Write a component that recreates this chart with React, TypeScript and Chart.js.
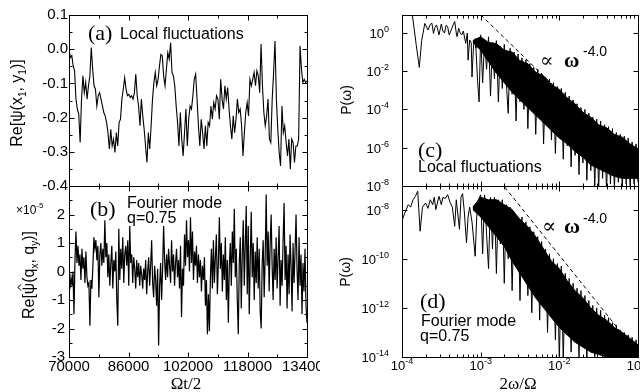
import React, { useEffect, useRef } from "react";
import { Chart, registerables } from "chart.js";

Chart.register(...registerables);

const SANS = '"Liberation Sans", Arial, Helvetica, sans-serif';
const SERIF = '"Liberation Serif", "Times New Roman", "DejaVu Serif", serif';

// ---------------- data ----------------
const timeStart = 70000;
const timeEnd = 134000;
const timeTicks = [70000, 86000, 102000, 118000, 134000];
const timeMinorTicks = [78000, 94000, 110000, 126000];

const aTicks = [0.1, 0.0, -0.1, -0.2, -0.3, -0.4];
const aMinorTicks = [0.05, -0.05, -0.15, -0.25, -0.35];
const bTicks = [2, 1, 0, -1, -2, -3];
const bMinorTicks = [2.5, 1.5, 0.5, -0.5, -1.5, -2.5];

// Re[psi(x1,y1)] sampled uniformly over the time window
const localFluct = [
  0.000, -0.024, -0.019, -0.049, -0.063, -0.146, -0.175, -0.190, -0.273, -0.146,
  -0.078, -0.127, -0.097, -0.146, -0.107, -0.078, 0.005, -0.058, -0.107, -0.117,
  -0.166, -0.136, -0.127, -0.146, -0.166, -0.185, -0.195, -0.214, -0.244, -0.292,
  -0.234, -0.283, -0.263, -0.302, -0.244, -0.283, -0.214, -0.205, -0.146, -0.117,
  -0.083, -0.117, -0.136, -0.132, -0.141, -0.136, -0.146, -0.127, -0.073, -0.136,
  -0.166, -0.224, -0.146, -0.195, -0.234, -0.283, -0.331, -0.244, -0.292, -0.224,
  -0.146, -0.097, -0.068, -0.107, -0.088, -0.049, -0.015, -0.019, -0.078, -0.107,
  -0.058, -0.010, -0.029, 0.019, -0.068, -0.078, -0.107, -0.166, -0.214, -0.283,
  -0.185, -0.263, -0.312, -0.244, -0.175, -0.283, -0.205, -0.166, -0.175, -0.136,
  -0.088, -0.073, -0.146, -0.224, -0.283, -0.205, -0.244, -0.292, -0.224, -0.283,
  -0.214, -0.224, -0.166, -0.205, -0.156, -0.175, -0.136, -0.146, -0.205, -0.088,
  -0.146, -0.175, -0.107, -0.146, -0.112, -0.175, -0.224, -0.263, -0.195, -0.244,
  -0.205, -0.146, -0.185, -0.175, -0.224, -0.312, -0.244, -0.185, -0.156, -0.195,
  -0.088, -0.107, -0.088, -0.068, -0.107, -0.063, -0.078, -0.127, 0.015, -0.107,
  -0.185, -0.224, -0.195, -0.146, -0.263, -0.273, -0.146, -0.068, 0.024, -0.146,
  -0.234, -0.302, -0.341, -0.166, -0.244, -0.224, -0.273, -0.312, -0.263, -0.351,
  -0.263, -0.273, -0.331, -0.283, -0.283, -0.263, 0.010, -0.058, -0.097, -0.088,
  -0.097, -0.093,
];

// Re[psi^(qx,qy)] in units of 1e-5
const fourierMode = [
  -0.3, -0.6, -0.2, -0.5, 0.0, -1.5, 0.4, 1.4, 0.3, 0.9,
  0.2, 0.6, -0.3, 0.8, 0.1, 0.5, -0.4, 0.7, -0.2, -0.5,
  -0.4, -1.9, -0.3, -0.6, 0.2, 1.2, 0.8, 1.1, 0.4, 0.9,
  -0.9, 0.6, 1.0, 0.2, 0.8, 0.3, 1.8, 0.5, 1.0, -0.2,
  0.6, -0.5, 0.3, 0.9, -0.6, 0.4, 0.0, 0.7, -1.0, -1.9,
  1.5, -0.3, 0.8, 0.1, 1.2, -0.4, 0.6, 0.9, 0.2, 1.1,
  -0.5, 1.6, 0.3, 0.6, -0.4, 0.5, 0.1, -0.6, 0.4, -0.2,
  0.3, -0.5, 0.2, -0.1, -0.6, 0.1, -0.3, 0.4, -0.8, 0.0,
  0.5, -0.5, 0.2, 1.1, -0.4, -0.9, 0.2, -0.3, -1.2, 0.1,
  -2.6, -0.5, 0.3, -1.0, 0.1, 1.6, 0.4, -0.3, 0.6, -0.2,
  0.8, 0.2, -0.4, 1.1, 0.0, 0.6, -0.5, 0.3, 0.8, -0.2,
  0.4, -0.6, 0.9, -1.6, 0.1, -0.5, 1.3, 0.2, 1.8, 0.5,
  1.1, 0.0, 1.9, 0.3, 1.4, -0.3, 0.7, 0.2, 0.9, -0.4,
  0.6, -0.2, 0.4, -0.7, 0.2, -0.3, 0.5, -1.2, -0.3, -2.2,
  -0.8, -2.1, -0.2, 0.8, -0.6, 1.1, -0.4, 0.5, 1.3, -0.8,
  0.3, 1.9, 0.1, 1.0, -0.7, 0.6, -0.3, 1.2, -1.0, 0.4,
  -1.8, 0.2, 1.0, -0.5, 1.4, 0.3, 2.2, -0.2, 0.8, -1.0,
  -2.2, 0.3, 1.2, -1.3, 0.6, 1.8, -0.5, 0.9, 2.3, -0.8,
  1.6, -1.5, 0.4, 2.1, -0.2, 1.0, -1.0, 0.7, -0.4, 1.2,
  -0.6, 0.8, -1.4, -2.0, 0.3, 1.1, -0.9, 0.5, 2.7, 0.2,
  1.4, -0.7, 1.0, 2.0, 0.2, -1.0, 0.8, -0.3, 1.2, -0.6,
  0.5, 1.6, -1.2, 0.4, -0.5, 1.1, 2.4, -0.3, 0.9, -1.3,
  0.6, -0.8, 1.3, 0.2, -1.4, 1.0, -0.4, 0.7, 2.0, 0.1,
  -1.0, 1.2, -0.5, 0.6, -1.5, 0.3, -0.7, 0.8, -1.2, -1.8,
];

// spectra: log10 of frequency (2w/Omega) and of P(w)
const freqDecades = [-4, -3, -2, -1];
const cYDecades = [0, -2, -4, -6, -8];
const dYDecades = [-8, -10, -12, -14];

const cLogFreq = [
  -4.00, -3.87, -3.82, -3.79, -3.78, -3.75, -3.71, -3.67, -3.64, -3.62,
  -3.60, -3.58, -3.56, -3.53, -3.50, -3.48, -3.46, -3.44, -3.42, -3.40,
  -3.37, -3.35, -3.33, -3.31, -3.30, -3.28, -3.26, -3.24, -3.22, -3.19,
  -3.17, -3.16, -3.14, -3.12, -3.11, -3.09, -3.07, -3.06, -3.04, -3.02,
  -3.000, -2.975, -2.950, -2.925, -2.900, -2.875, -2.850, -2.825, -2.800, -2.775,
  -2.750, -2.725, -2.700, -2.675, -2.650, -2.625, -2.600, -2.575, -2.550, -2.525,
  -2.500, -2.475, -2.450, -2.425, -2.400, -2.375, -2.350, -2.325, -2.300, -2.275,
  -2.250, -2.225, -2.200, -2.175, -2.150, -2.125, -2.100, -2.075, -2.050, -2.025,
  -2.000, -1.975, -1.950, -1.925, -1.900, -1.875, -1.850, -1.825, -1.800, -1.775,
  -1.750, -1.725, -1.700, -1.675, -1.650, -1.625, -1.600, -1.575, -1.550, -1.525,
  -1.500, -1.475, -1.450, -1.425, -1.400, -1.375, -1.350, -1.325, -1.300, -1.275,
  -1.250, -1.225, -1.200, -1.175, -1.150, -1.125, -1.100, -1.075, -1.050, -1.025,
  -1.000,
];
const cLogPower = [
  1.5, 1.0, -0.6, -1.5, -1.8, -0.4, 0.5, 0.16, 0.45, 0.51,
  -0.02, 0.3, 0.42, -0.1, 0.47, 0.1, 0.0, 0.4, 0.33, -0.1,
  0.2, 0.42, 0.6, 0.0, -0.19, 0.25, 0.0, -0.1, 0.1, -0.54,
  0.0, -1.42, -0.37, -0.5, -2.3, -0.6, -0.3, -0.8, -2.47, -3.6,
  -0.1, -2.6, -0.4, -1.9, -0.2, -3.3, -0.5, -2.4, -0.4, -3.6,
  -0.7, -2.9, -0.6, -2.5, -4.2, -0.8, -3.2, -1.0, -4.6, -1.1,
  -3.6, -1.3, -4.0, -1.4, -5.0, -1.6, -3.9, -1.8, -5.3, -1.9,
  -4.4, -2.1, -5.8, -2.3, -4.9, -2.4, -5.6, -2.6, -6.3, -2.8,
  -5.4, -2.9, -6.6, -3.1, -5.9, -3.3, -7.0, -3.5, -6.4, -3.7,
  -7.4, -3.9, -6.8, -4.0, -7.7, -4.2, -7.2, -4.4, -8.1, -4.5,
  -8.2, -4.6, -7.6, -4.8, -8.3, -4.9, -7.9, -5.0, -8.2, -5.2,
  -7.8, -5.3, -8.1, -5.4, -7.9, -5.5, -8.1, -5.7, -7.9, -5.8,
  -7.8,
];
const cBandFreq = [
  -3.10, -3.00, -2.90, -2.80, -2.70, -2.60, -2.50, -2.40, -2.30, -2.20, -2.10,
  -2.00, -1.90, -1.80, -1.70, -1.60, -1.50, -1.40, -1.30, -1.20, -1.10, -1.00,
];
const cBandUpper = [
  -0.4, -0.2, -0.5, -0.55, -0.9, -1.0, -1.45, -1.6, -2.05, -2.25, -2.7,
  -2.95, -3.4, -3.7, -4.15, -4.4, -4.8, -4.95, -5.3, -5.45, -5.8, -6.05,
];
const cBandLower = [
  -0.5, -0.9, -1.5, -2.1, -2.6, -3.1, -3.5, -3.9, -4.3, -4.7, -5.1,
  -5.5, -5.8, -6.2, -6.5, -6.9, -7.1, -7.3, -7.5, -7.6, -7.6, -7.6,
];
const cSlopeFreq = [-3.0, -1.0];
const cSlopePower = [0.95, -7.05];

const dLogFreq = [
  -4.00, -3.96, -3.92, -3.89, -3.86, -3.83, -3.80, -3.77, -3.74, -3.70,
  -3.67, -3.64, -3.61, -3.59, -3.57, -3.53, -3.50, -3.48, -3.45, -3.42,
  -3.39, -3.36, -3.33, -3.31, -3.27, -3.25, -3.23, -3.21, -3.18, -3.16,
  -3.14, -3.11, -3.07, -3.05, -3.03,
  -3.000, -2.975, -2.950, -2.925, -2.900, -2.875, -2.850, -2.825, -2.800, -2.775,
  -2.750, -2.725, -2.700, -2.675, -2.650, -2.625, -2.600, -2.575, -2.550, -2.525,
  -2.500, -2.475, -2.450, -2.425, -2.400, -2.375, -2.350, -2.325, -2.300, -2.275,
  -2.250, -2.225, -2.200, -2.175, -2.150, -2.125, -2.100, -2.075, -2.050, -2.025,
  -2.000, -1.975, -1.950, -1.925, -1.900, -1.875, -1.850, -1.825, -1.800, -1.775,
  -1.750, -1.725, -1.700, -1.675, -1.650, -1.625, -1.600, -1.575, -1.550, -1.525,
  -1.500, -1.475, -1.450, -1.425, -1.400, -1.375, -1.350, -1.325, -1.300, -1.275,
  -1.250, -1.225, -1.200, -1.175, -1.150, -1.125, -1.100, -1.075, -1.050, -1.025,
  -1.000,
];
const dLogPower = [
  -8.45, -8.1, -7.8, -7.9, -7.6, -7.46, -7.25, -8.88, -7.9, -7.73,
  -7.95, -7.6, -7.8, -7.5, -8.0, -7.46, -7.8, -7.5, -7.55, -7.39,
  -7.7, -7.9, -8.68, -7.6, -8.8, -7.5, -7.35, -8.0, -9.36, -8.3,
  -7.9, -8.5, -9.9, -8.3, -7.6,
  -7.4, -9.8, -7.4, -9.0, -10.4, -7.5, -9.6, -7.5, -10.6, -7.6,
  -9.4, -7.6, -11.0, -7.8, -10.0, -7.9, -11.3, -8.1, -10.3, -8.3,
  -11.7, -8.3, -10.8, -8.5, -11.5, -8.7, -12.2, -8.9, -11.2, -9.1,
  -12.5, -9.3, -11.8, -9.6, -13.0, -9.8, -12.2, -10.0, -13.3, -10.2,
  -14.2, -10.3, -14.2, -10.6, -13.1, -10.8, -13.8, -11.0, -13.4, -11.2,
  -14.0, -11.3, -13.6, -11.5, -14.1, -11.7, -13.8, -11.9, -14.1, -12.0,
  -13.9, -12.1, -14.1, -12.3, -14.1, -12.4, -14.1, -12.6, -14.1, -12.7,
  -14.1, -12.9, -14.1, -13.0, -14.1, -13.1, -14.1, -13.2, -14.1, -13.3,
  -14.1,
];
const dBandFreq = [
  -3.10, -3.00, -2.90, -2.80, -2.70, -2.60, -2.50, -2.40, -2.30, -2.20, -2.10,
  -2.00, -1.90, -1.80, -1.70, -1.60, -1.50, -1.40, -1.30, -1.20, -1.10, -1.00,
];
const dBandUpper = [
  -7.9, -7.5, -7.6, -7.6, -7.8, -8.0, -8.4, -8.7, -9.1, -9.6, -10.1,
  -10.4, -10.9, -11.3, -11.6, -12.0, -12.3, -12.5, -12.8, -13.0, -13.25, -13.5,
];
const dBandLower = [
  -8.0, -8.3, -8.7, -9.1, -9.5, -10.1, -10.6, -11.1, -11.6, -12.0, -12.4,
  -12.8, -13.1, -13.4, -13.6, -13.8, -13.9, -14.0, -14.0, -14.0, -14.0, -14.0,
];
const dSlopeFreq = [-2.75, -1.0];
const dSlopePower = [-6.86, -13.86];

// ---------------- helpers ----------------
const timeAt = (i: number, n: number) => timeStart + (i * (timeEnd - timeStart)) / (n - 1);
const seriesXY = (vals: number[]) => vals.map((v, i) => ({ x: timeAt(i, vals.length), y: v }));
const logXY = (lx: number[], ly: number[]) => lx.map((v, i) => ({ x: Math.pow(10, v), y: Math.pow(10, ly[i]) }));
const pow10 = (d: number) => Math.pow(10, d);
const logMinor = (decs: number[]) => {
  const out: number[] = [];
  for (let i = 0; i < decs.length - 1; i++) for (let m = 2; m <= 9; m++) out.push(m * pow10(decs[i]));
  return out;
};

type Seg = { t: string; size: number; family?: string; weight?: string; dy?: number; hat?: boolean };
type TextItem = { x: number; y: number; segs: Seg[]; align?: "left" | "center" | "right"; rotate?: boolean };

const fontOf = (s: Seg) => `${s.weight ?? "normal"} ${s.size}px ${s.family ?? SANS}`;

function drawRich(ctx: CanvasRenderingContext2D, item: TextItem) {
  ctx.save();
  ctx.fillStyle = "#000";
  ctx.strokeStyle = "#000";
  ctx.textBaseline = "alphabetic";
  ctx.textAlign = "left";
  let ox = item.x;
  let oy = item.y;
  if (item.rotate) {
    ctx.translate(item.x, item.y);
    ctx.rotate(-Math.PI / 2);
    ox = 0;
    oy = 0;
  }
  const widths = item.segs.map((s) => {
    ctx.font = fontOf(s);
    return ctx.measureText(s.t).width;
  });
  const total = widths.reduce((a, b) => a + b, 0);
  let cx = item.align === "center" ? ox - total / 2 : item.align === "right" ? ox - total : ox;
  item.segs.forEach((s, i) => {
    ctx.font = fontOf(s);
    const by = oy + (s.dy ?? 0);
    ctx.fillText(s.t, cx, by);
    if (s.hat) {
      const mx = cx + widths[i] / 2 + 1;
      const hy = by - s.size * 0.92;
      ctx.lineWidth = 1;
      ctx.beginPath();
      ctx.moveTo(mx - 3, hy + 2);
      ctx.lineTo(mx, hy - 1.5);
      ctx.lineTo(mx + 3, hy + 2);
      ctx.stroke();
    }
    cx += widths[i];
  });
  ctx.restore();
}

const framePlugin = {
  id: "frame",
  afterDraw(chart: any, _args: any, opts: any) {
    const ctx: CanvasRenderingContext2D = chart.ctx;
    const { left, right, top, bottom } = chart.chartArea;
    const xs = chart.scales.x;
    const ys = chart.scales.y;
    const L = Math.round(left) + 0.5;
    const R = Math.round(right) + 0.5;
    const T = Math.round(top) + 0.5;
    const B = Math.round(bottom) + 0.5;
    ctx.save();
    ctx.strokeStyle = "#000";
    ctx.lineWidth = 1;
    ctx.strokeRect(L, T, R - L, B - T);
    const seg = (x1: number, y1: number, x2: number, y2: number) => {
      ctx.beginPath();
      ctx.moveTo(x1, y1);
      ctx.lineTo(x2, y2);
      ctx.stroke();
    };
    const xt = (vals: number[], len: number) =>
      vals.forEach((v) => {
        const p = Math.round(xs.getPixelForValue(v)) + 0.5;
        if (p < L - 0.1 || p > R + 0.1) return;
        seg(p, T, p, T + len);
        seg(p, B, p, B - len);
      });
    const yt = (vals: number[], len: number) =>
      vals.forEach((v) => {
        const p = Math.round(ys.getPixelForValue(v)) + 0.5;
        if (p < T - 0.1 || p > B + 0.1) return;
        seg(L, p, L + len, p);
        seg(R, p, R - len, p);
      });
    xt(opts.xMajor || [], 5);
    xt(opts.xMinor || [], 3);
    yt(opts.yMajor || [], 5);
    yt(opts.yMinor || [], 3);
    ctx.restore();

    if (opts.logY) {
      (opts.logY as number[]).forEach((d) => {
        const p = ys.getPixelForValue(pow10(d));
        drawRich(ctx, {
          x: left - 13,
          y: p + 5,
          align: "right",
          segs: [
            { t: "10", size: 13 },
            { t: String(d), size: 9, dy: -6 },
          ],
        });
      });
    }
    if (opts.logX) {
      (opts.logX as number[]).forEach((d) => {
        const p = xs.getPixelForValue(pow10(d));
        drawRich(ctx, {
          x: p,
          y: 370,
          align: "center",
          segs: [
            { t: "10", size: 13 },
            { t: String(d), size: 9, dy: -6 },
          ],
        });
      });
    }
    (opts.texts || []).forEach((t: TextItem) => drawRich(ctx, t));
  },
};

const lineDs = (data: any[], extra: any = {}) => ({
  data,
  borderColor: "#000",
  backgroundColor: "#000",
  borderWidth: 1,
  pointRadius: 0,
  tension: 0,
  fill: false,
  ...extra,
});

const baseOpts = (padding: any, scales: any, frame: any) => ({
  responsive: false,
  animation: false,
  devicePixelRatio: 1,
  events: [],
  layout: { padding },
  plugins: { legend: { display: false }, tooltip: { enabled: false }, frame },
  scales,
});

const linYAxis = (min: number, max: number, ticks: number[], pad: number, fmt: (v: number) => string) => ({
  type: "linear",
  min,
  max,
  afterBuildTicks: (s: any) => {
    s.ticks = ticks.map((v) => ({ value: v }));
  },
  afterFit: (s: any) => {
    s.width = 69;
    s.paddingTop = 0;
    s.paddingBottom = 0;
  },
  grid: { display: false, drawTicks: false },
  border: { display: false },
  ticks: { color: "#000", font: { family: SANS, size: 15 }, padding: pad, autoSkip: false, callback: (v: any) => fmt(Number(v)) },
});

function makeA(cv: HTMLCanvasElement) {
  return new Chart(cv, {
    type: "line",
    data: { datasets: [lineDs(seriesXY(localFluct), { borderWidth: 1.1 })] },
    options: baseOpts(
      { left: 0, right: 13, top: 15, bottom: 206 },
      {
        x: { type: "linear", min: timeStart, max: timeEnd, display: false },
        y: linYAxis(-0.4, 0.1, aTicks, 1, (v) => v.toFixed(1)),
      },
      {
        xMajor: timeTicks,
        xMinor: timeMinorTicks,
        yMajor: aTicks,
        yMinor: aMinorTicks,
        texts: [
          { x: 88, y: 40, segs: [{ t: "(a)", size: 22, family: SERIF }] },
          { x: 120, y: 39, segs: [{ t: "Local fluctuations", size: 16 }] },
          {
            x: 22,
            y: 103,
            rotate: true,
            align: "center",
            segs: [
              { t: "Re[ψ(x", size: 16 },
              { t: "1", size: 10, dy: 4 },
              { t: ", y", size: 16 },
              { t: "1", size: 10, dy: 4 },
              { t: ")]", size: 16 },
            ],
          },
        ],
      }
    ) as any,
    plugins: [framePlugin as any],
  });
}

function makeB(cv: HTMLCanvasElement) {
  return new Chart(cv, {
    type: "line",
    data: { datasets: [lineDs(seriesXY(fourierMode), { borderWidth: 1.2 })] },
    options: baseOpts(
      { left: 0, right: 13, top: 186, bottom: 0 },
      {
        x: {
          type: "linear",
          min: timeStart,
          max: timeEnd,
          afterBuildTicks: (s: any) => {
            s.ticks = timeTicks.map((v) => ({ value: v }));
          },
          afterFit: (s: any) => {
            s.height = 35;
            s.paddingLeft = 0;
            s.paddingRight = 0;
          },
          grid: { display: false, drawTicks: false },
          border: { display: false },
          ticks: {
            color: "#000",
            font: { family: SANS, size: 15 },
            padding: 1,
            maxRotation: 0,
            autoSkip: false,
            callback: (v: any) => String(v),
          },
        },
        y: linYAxis(-3, 3, bTicks, 4, (v) => String(v)),
      },
      {
        xMajor: timeTicks,
        xMinor: timeMinorTicks,
        yMajor: bTicks,
        yMinor: bMinorTicks,
        texts: [
          { x: 90, y: 216, segs: [{ t: "(b)", size: 22, family: SERIF }] },
          { x: 127, y: 208, segs: [{ t: "Fourier mode", size: 16 }] },
          { x: 127, y: 223, segs: [{ t: "q=0.75", size: 16 }] },
          {
            x: 16,
            y: 214,
            segs: [
              { t: "×10", size: 12 },
              { t: "-5", size: 8, dy: -6 },
            ],
          },
          {
            x: 34,
            y: 275,
            rotate: true,
            align: "center",
            segs: [
              { t: "Re[", size: 16 },
              { t: "ψ", size: 16, hat: true },
              { t: "(q", size: 16 },
              { t: "x", size: 10, dy: 4 },
              { t: ", q", size: 16 },
              { t: "y", size: 10, dy: 4 },
              { t: ")]", size: 16 },
            ],
          },
          { x: 186, y: 389, align: "center", segs: [{ t: "Ωt/2", size: 17, family: SERIF }] },
        ],
      }
    ) as any,
    plugins: [framePlugin as any],
  });
}

function spectrumDatasets(
  sf: number[], sp: number[], lf: number[], lp: number[], bf: number[], bu: number[], bl: number[]
) {
  return [
    lineDs(logXY(sf, sp), { borderDash: [4, 3] }),
    lineDs(logXY(lf, lp)),
    lineDs(logXY(bf, bu), { fill: "+1" }),
    lineDs(logXY(bf, bl)),
  ];
}

const minorFreq = logMinor(freqDecades);

function makeC(cv: HTMLCanvasElement) {
  return new Chart(cv, {
    type: "line",
    data: {
      datasets: spectrumDatasets(cSlopeFreq, cSlopePower, cLogFreq, cLogPower, cBandFreq, cBandUpper, cBandLower),
    },
    options: baseOpts(
      { left: 402, right: 2, top: 15, bottom: 206 },
      {
        x: { type: "logarithmic", min: 1e-4, max: 1e-1, display: false },
        y: { type: "logarithmic", min: 1e-8, max: pow10(0.94), display: false },
      },
      {
        xMajor: freqDecades.map(pow10),
        xMinor: minorFreq,
        yMajor: cYDecades.map(pow10),
        logY: cYDecades,
        texts: [
          { x: 540, y: 67, segs: [{ t: "∝", size: 20, family: SERIF }] },
          { x: 564, y: 67, segs: [{ t: "ω", size: 21, family: SERIF, weight: "bold" }] },
          { x: 583, y: 56, segs: [{ t: "-4.0", size: 14 }] },
          { x: 418, y: 157, segs: [{ t: "(c)", size: 22, family: SERIF }] },
          { x: 418, y: 172, segs: [{ t: "Local fluctuations", size: 16 }] },
          { x: 351, y: 100, rotate: true, align: "center", segs: [{ t: "P(ω)", size: 14 }] },
        ],
      }
    ) as any,
    plugins: [framePlugin as any],
  });
}

function makeD(cv: HTMLCanvasElement) {
  return new Chart(cv, {
    type: "line",
    data: {
      datasets: spectrumDatasets(dSlopeFreq, dSlopePower, dLogFreq, dLogPower, dBandFreq, dBandUpper, dBandLower),
    },
    options: baseOpts(
      { left: 402, right: 2, top: 186, bottom: 35 },
      {
        x: { type: "logarithmic", min: 1e-4, max: 1e-1, display: false },
        y: { type: "logarithmic", min: 1e-14, max: pow10(-7.04), display: false },
      },
      {
        xMajor: freqDecades.map(pow10),
        xMinor: minorFreq,
        yMajor: dYDecades.map(pow10),
        logY: dYDecades,
        logX: freqDecades,
        texts: [
          { x: 542, y: 233, segs: [{ t: "∝", size: 21, family: SERIF }] },
          { x: 564, y: 233, segs: [{ t: "ω", size: 22, family: SERIF, weight: "bold" }] },
          { x: 583, y: 223, segs: [{ t: "-4.0", size: 14 }] },
          { x: 420, y: 308, segs: [{ t: "(d)", size: 22, family: SERIF }] },
          { x: 421, y: 326, segs: [{ t: "Fourier mode", size: 16 }] },
          { x: 420, y: 341, segs: [{ t: "q=0.75", size: 16 }] },
          { x: 350, y: 272, rotate: true, align: "center", segs: [{ t: "P(ω)", size: 14 }] },
          { x: 518, y: 389, align: "center", segs: [{ t: "2ω/Ω", size: 17, family: SERIF }] },
        ],
      }
    ) as any,
    plugins: [framePlugin as any],
  });
}

export default function App() {
  const refA = useRef<HTMLCanvasElement>(null);
  const refB = useRef<HTMLCanvasElement>(null);
  const refC = useRef<HTMLCanvasElement>(null);
  const refD = useRef<HTMLCanvasElement>(null);

  useEffect(() => {
    document.body.style.margin = "0";
    const charts = [makeA(refA.current!), makeB(refB.current!), makeC(refC.current!), makeD(refD.current!)];
    return () => charts.forEach((c) => c.destroy());
  }, []);

  const cs: React.CSSProperties = { position: "absolute", left: 0, top: 0 };
  return (
    <div style={{ position: "relative", width: 640, height: 392, background: "#fff", overflow: "hidden" }}>
      <canvas ref={refA} width={320} height={392} style={cs} />
      <canvas ref={refB} width={320} height={392} style={cs} />
      <canvas ref={refC} width={640} height={392} style={cs} />
      <canvas ref={refD} width={640} height={392} style={cs} />
    </div>
  );
}
